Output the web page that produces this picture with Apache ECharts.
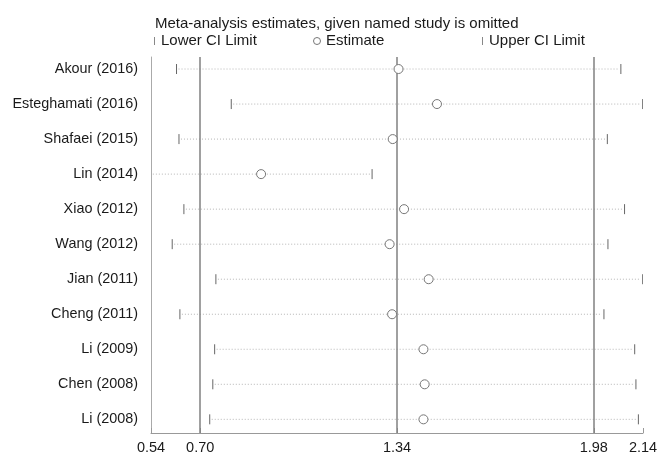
<!DOCTYPE html>
<html>
<head>
<meta charset="utf-8">
<script src="https://cdn.jsdelivr.net/npm/echarts@6/dist/echarts.min.js"></script>
<style>html,body{margin:0;padding:0;background:#fff}#c{width:663px;height:457px}</style>
</head>
<body>
<div id="c"></div>
<script>
const studies = ['Akour (2016)','Esteghamati (2016)','Shafaei (2015)','Lin (2014)','Xiao (2012)','Wang (2012)','Jian (2011)','Cheng (2011)','Li (2009)','Chen (2008)','Li (2008)'];
const lowerCI  = [0.623, 0.801, 0.631, 0.52, 0.647, 0.609, 0.751, 0.634, 0.747, 0.741, 0.731];
const estimate = [1.345, 1.470, 1.326, 0.898, 1.363, 1.316, 1.443, 1.324, 1.426, 1.430, 1.426];
const upperCI  = [2.068, 2.139, 2.024, 1.259, 2.080, 2.026, 2.139, 2.013, 2.113, 2.117, 2.125];
const xTicks = [0.54, 0.70, 1.34, 1.98, 2.14];
const refLines = [0.70, 1.34, 1.98];

const FONT = '"Liberation Sans", Arial, sans-serif';
const rows = studies.map((s, i) => i + 1);
const ciData = studies.map((s, i) => [lowerCI[i], upperCI[i], rows[i]]);
const estData = studies.map((s, i) => [estimate[i], rows[i]]);

const chart = echarts.init(document.getElementById('c'), null, {renderer: 'canvas'});
chart.setOption({
  animation: false,
  backgroundColor: '#fff',
  title: {
    text: 'Meta-analysis estimates, given named study is omitted',
    left: 150, top: 11,
    textStyle: {fontFamily: FONT, fontSize: 15, fontWeight: 'normal', color: '#1a1a1a'}
  },
  graphic: [
    {type: 'line', shape: {x1: 154.5, y1: 37, x2: 154.5, y2: 45}, style: {stroke: '#888', lineWidth: 1}},
    {type: 'text', x: 161, y: 41, style: {text: 'Lower CI Limit', font: '15px ' + FONT, fill: '#1a1a1a', verticalAlign: 'middle'}},
    {type: 'circle', shape: {cx: 317, cy: 41, r: 3.5}, style: {stroke: '#777', fill: '#fff', lineWidth: 1}},
    {type: 'text', x: 326, y: 41, style: {text: 'Estimate', font: '15px ' + FONT, fill: '#1a1a1a', verticalAlign: 'middle'}},
    {type: 'line', shape: {x1: 482.5, y1: 37, x2: 482.5, y2: 45}, style: {stroke: '#888', lineWidth: 1}},
    {type: 'text', x: 489, y: 41, style: {text: 'Upper CI Limit', font: '15px ' + FONT, fill: '#1a1a1a', verticalAlign: 'middle'}}
  ],
  grid: {left: 151, right: 20, top: 57, bottom: 24},
  xAxis: {
    type: 'value', min: 0.54, max: 2.14,
    splitLine: {show: false},
    axisLine: {show: true, lineStyle: {color: '#999', width: 1}},
    axisTick: {show: true, inside: true, length: 5, customValues: xTicks, lineStyle: {color: '#999'}},
    axisLabel: {customValues: xTicks, formatter: v => v.toFixed(2), fontFamily: FONT, fontSize: 14.5, color: '#1a1a1a', margin: 7}
  },
  yAxis: {
    type: 'value', inverse: true, min: 0.657, max: 11.39,
    splitLine: {show: false},
    axisLine: {show: true, lineStyle: {color: '#aaa', width: 1}},
    axisTick: {show: false},
    axisLabel: {customValues: rows, formatter: v => studies[Math.round(v) - 1], fontFamily: FONT, fontSize: 14.4, color: '#1a1a1a', margin: 13}
  },
  series: [
    {
      type: 'custom',
      clip: true,
      z: 2,
      data: ciData,
      renderItem: function (params, api) {
        const lo = api.coord([api.value(0), api.value(2)]);
        const hi = api.coord([api.value(1), api.value(2)]);
        return {
          type: 'group',
          children: [
            {type: 'line', shape: {x1: lo[0] + 2, y1: lo[1], x2: hi[0] - 2, y2: hi[1]}, style: {stroke: '#b5b5b5', lineWidth: 1, lineDash: [1, 2]}},
            {type: 'line', shape: {x1: lo[0], y1: lo[1] - 5, x2: lo[0], y2: lo[1] + 5}, style: {stroke: '#666', lineWidth: 1}},
            {type: 'line', shape: {x1: hi[0], y1: hi[1] - 5, x2: hi[0], y2: hi[1] + 5}, style: {stroke: '#666', lineWidth: 1}}
          ]
        };
      }
    },
    {
      type: 'scatter',
      z: 5,
      data: estData,
      symbol: 'circle',
      symbolSize: 9,
      itemStyle: {color: '#fff', borderColor: '#777', borderWidth: 1, opacity: 1},
      markLine: {
        silent: true,
        symbol: 'none',
        label: {show: false},
        lineStyle: {color: '#808080', width: 1.5, type: 'solid'},
        data: refLines.map(v => ({xAxis: v}))
      }
    }
  ]
});
</script>
</body>
</html>
